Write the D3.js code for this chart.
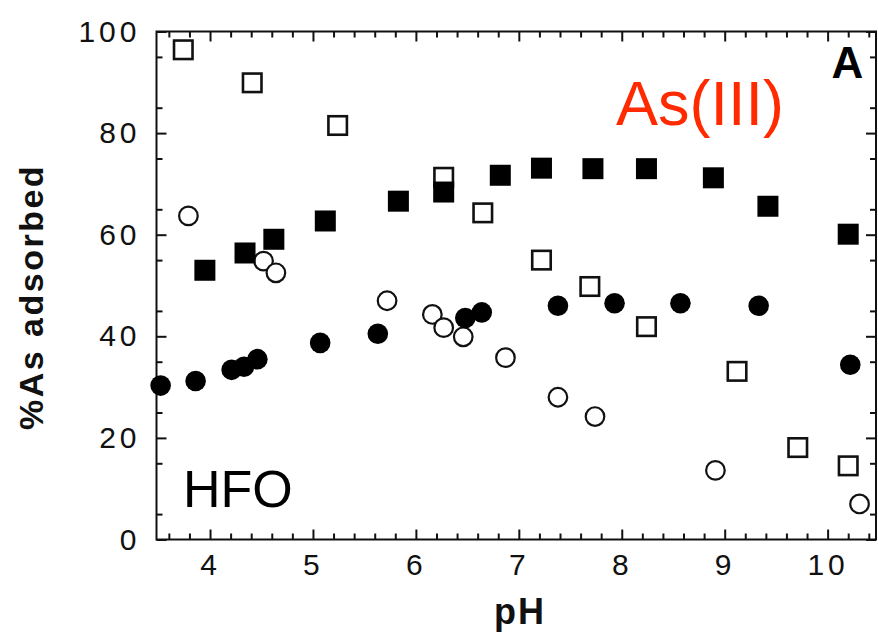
<!DOCTYPE html>
<html>
<head>
<meta charset="utf-8">
<script src="https://cdn.jsdelivr.net/npm/d3@7"></script>
<style>
  html, body { margin: 0; padding: 0; background: #fff; }
  svg { display: block; }
  text { font-family: "Liberation Sans", Arial, Helvetica, sans-serif; }
</style>
</head>
<body>
<svg id="chart" width="878" height="633"></svg>
<script>
// As(III) adsorption on HFO versus pH — four series
const filledSquarePH  = [3.95, 4.34, 4.62, 5.12, 5.83, 6.27, 6.82, 7.22, 7.72, 8.24, 8.89, 9.42, 10.20];
const filledSquarePct = [53.0, 56.4, 59.1, 62.7, 66.6, 68.4, 71.7, 73.1, 73.0, 73.0, 71.2, 65.6, 60.1];

const openSquarePH  = [3.74, 4.41, 5.24, 6.27, 6.65, 7.22, 7.69, 8.24, 9.12, 9.71, 10.20];
const openSquarePct = [96.4, 89.9, 81.5, 71.3, 64.3, 55.0, 49.8, 41.9, 33.1, 18.1, 14.5];

const filledCirclePH  = [3.52, 3.86, 4.21, 4.33, 4.46, 5.07, 5.63, 6.48, 6.64, 7.38, 7.93, 8.57, 9.33, 10.22];
const filledCirclePct = [30.3, 31.2, 33.4, 34.0, 35.5, 38.7, 40.5, 43.6, 44.7, 46.0, 46.5, 46.5, 46.0, 34.4];

const openCirclePH  = [3.79, 4.52, 4.64, 5.72, 6.16, 6.27, 6.46, 6.87, 7.38, 7.74, 8.91, 10.31];
const openCirclePct = [63.7, 54.8, 52.5, 47.0, 44.3, 41.7, 39.9, 35.8, 28.0, 24.2, 13.6, 7.0];

const xMajorTicks = [4, 5, 6, 7, 8, 9, 10];
const yMajorTicks = [0, 20, 40, 60, 80, 100];

const svg = d3.select("#chart");

const plotLeft = 156.5, plotRight = 876, plotTop = 31.5, plotBottom = 539.5;

const x = d3.scaleLinear().domain([3.48, 10.47]).range([plotLeft, plotRight]);
const y = d3.scaleLinear().domain([0, 100]).range([plotBottom, plotTop]);

const xMinor = d3.range(3.6, 10.41, 0.2).map(v => +v.toFixed(1)).filter(v => !xMajorTicks.includes(v));
const yMinor = d3.range(5, 100, 10);

// frame
svg.append("rect")
  .attr("x", plotLeft).attr("y", plotTop)
  .attr("width", plotRight - plotLeft).attr("height", plotBottom - plotTop)
  .attr("fill", "none").attr("stroke", "#111").attr("stroke-width", 2);

function styleAxis(g) {
  g.select(".domain").remove();
  g.selectAll(".tick line").attr("stroke", "#111").attr("stroke-width", 2);
  g.selectAll(".tick text")
    .attr("fill", "#111")
    .style("font-size", "30px")
    .style("letter-spacing", "4px");
}

// bottom axis
svg.append("g").attr("transform", `translate(0,${plotBottom})`)
  .call(d3.axisBottom(x).tickValues(xMajorTicks).tickSize(-10).tickPadding(14).tickFormat(d3.format("d")))
  .call(styleAxis);
svg.append("g").attr("transform", `translate(0,${plotBottom})`)
  .call(d3.axisBottom(x).tickValues(xMinor).tickSize(-6).tickFormat(""))
  .call(styleAxis);

// top axis
svg.append("g").attr("transform", `translate(0,${plotTop})`)
  .call(d3.axisTop(x).tickValues(xMajorTicks).tickSize(-10).tickFormat(""))
  .call(styleAxis);
svg.append("g").attr("transform", `translate(0,${plotTop})`)
  .call(d3.axisTop(x).tickValues(xMinor).tickSize(-6).tickFormat(""))
  .call(styleAxis);

// left axis
svg.append("g").attr("transform", `translate(${plotLeft},0)`)
  .call(d3.axisLeft(y).tickValues(yMajorTicks).tickSize(-10).tickPadding(16).tickFormat(d3.format("d")))
  .call(styleAxis);
svg.append("g").attr("transform", `translate(${plotLeft},0)`)
  .call(d3.axisLeft(y).tickValues(yMinor).tickSize(-6).tickFormat(""))
  .call(styleAxis);

// right axis
svg.append("g").attr("transform", `translate(${plotRight},0)`)
  .call(d3.axisRight(y).tickValues(yMajorTicks).tickSize(-10).tickFormat(""))
  .call(styleAxis);
svg.append("g").attr("transform", `translate(${plotRight},0)`)
  .call(d3.axisRight(y).tickValues(yMinor).tickSize(-6).tickFormat(""))
  .call(styleAxis);

// axis titles
svg.append("text")
  .attr("x", 520).attr("y", 624)
  .attr("text-anchor", "middle")
  .style("font-size", "36px").style("font-weight", "bold").style("letter-spacing", "2px")
  .attr("fill", "#111")
  .text("pH");

svg.append("text")
  .attr("transform", "translate(43,297) rotate(-90)")
  .attr("text-anchor", "middle")
  .style("font-size", "34px").style("font-weight", "bold").style("letter-spacing", "2.5px")
  .attr("fill", "#111")
  .text("%As adsorbed");

// markers
const plot = svg.append("g");
const sq = 21, sqOpen = 18.5, rFill = 10.3, rOpen = 9.3;

plot.selectAll(".open-sq")
  .data(d3.zip(openSquarePH, openSquarePct))
  .join("rect")
  .attr("x", d => x(d[0]) - sqOpen / 2).attr("y", d => y(d[1]) - sqOpen / 2)
  .attr("width", sqOpen).attr("height", sqOpen)
  .attr("fill", "#fff").attr("stroke", "#111").attr("stroke-width", 2.6);

plot.selectAll(".open-c")
  .data(d3.zip(openCirclePH, openCirclePct))
  .join("circle")
  .attr("cx", d => x(d[0])).attr("cy", d => y(d[1])).attr("r", rOpen)
  .attr("fill", "#fff").attr("stroke", "#111").attr("stroke-width", 2.2);

plot.selectAll(".fill-sq")
  .data(d3.zip(filledSquarePH, filledSquarePct))
  .join("rect")
  .attr("x", d => x(d[0]) - sq / 2).attr("y", d => y(d[1]) - sq / 2)
  .attr("width", sq).attr("height", sq)
  .attr("fill", "#000");

plot.selectAll(".fill-c")
  .data(d3.zip(filledCirclePH, filledCirclePct))
  .join("circle")
  .attr("cx", d => x(d[0])).attr("cy", d => y(d[1])).attr("r", rFill)
  .attr("fill", "#000");

// panel annotations
svg.append("text")
  .attr("x", 831.5).attr("y", 78.3)
  .style("font-size", "44px").style("font-weight", "bold")
  .attr("fill", "#000")
  .text("A");

svg.append("text")
  .attr("x", 616).attr("y", 125)
  .style("font-size", "63px")
  .attr("fill", "#ff2a00")
  .text("As(III)");

svg.append("text")
  .attr("x", 183).attr("y", 506.7)
  .style("font-size", "52px")
  .attr("fill", "#000")
  .text("HFO");
</script>
</body>
</html>
